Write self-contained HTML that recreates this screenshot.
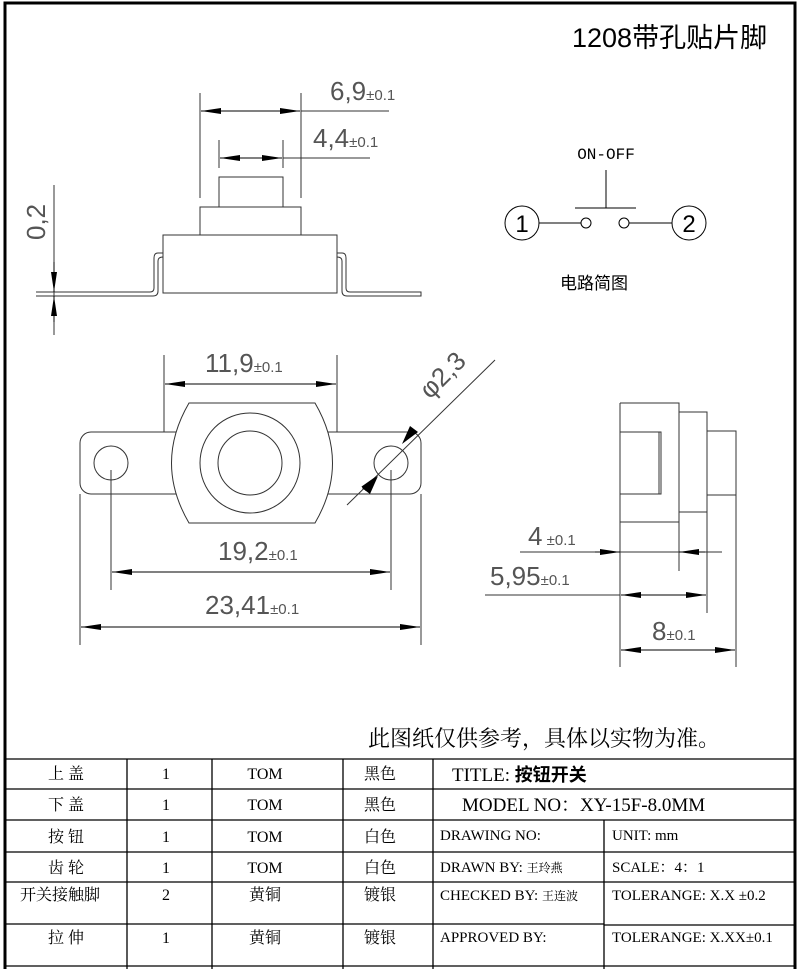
<!DOCTYPE html>
<html><head><meta charset="utf-8"><style>
body{margin:0;background:#fff}
svg{display:block}
.t{font-family:"Liberation Sans","DejaVu Sans",sans-serif;fill:#555;font-weight:300}
.c{font-family:"Liberation Serif","Noto Serif CJK SC",serif;fill:#000}
</style></head><body>
<svg width="800" height="969" viewBox="0 0 800 969" xmlns="http://www.w3.org/2000/svg">
<defs>
<marker id="a" viewBox="0 0 20 8" refX="20" refY="4" markerWidth="20" markerHeight="8" markerUnits="userSpaceOnUse" orient="auto"><path d="M0,1 L20,4 L0,7 Z" fill="#000"/></marker>
</defs>
<!-- frame -->
<rect x="5" y="3" width="790" height="975" fill="none" stroke="#000" stroke-width="3"/>
<text x="572" y="47" font-family="'Liberation Sans','Noto Sans CJK SC',sans-serif" font-size="27" fill="#000">1208带孔贴片脚</text>

<g stroke="#333" stroke-width="1" fill="none">
<!-- top view -->
<rect x="163" y="235" width="174" height="58"/>
<rect x="200" y="207" width="101" height="28"/>
<rect x="219" y="177" width="64" height="30"/>
<path d="M36,292 H150 Q154,292 154,288 V258 Q154,253 158,253 H163"/>
<path d="M36,296 H153 Q158,296 158,291 V261 Q158,257 163,257"/>
<path d="M337,253 H342 Q346,253 346,258 V288 Q346,292 350,292 H421 V296 H347 Q342,296 342,291 V261 Q342,257 337,257"/>
<path d="M200,93 V198 M301,93 V198 M219,140 V168 M283,140 V168"/>
<line x1="301" y1="111" x2="389" y2="111"/>
<line x1="283" y1="158" x2="370" y2="158"/>
<line x1="54" y1="185" x2="54" y2="335"/>
</g>
<g stroke="#000" stroke-width="1">
<line x1="250" y1="111" x2="201" y2="111" marker-end="url(#a)"/>
<line x1="250" y1="111" x2="300" y2="111" marker-end="url(#a)"/>
<line x1="251" y1="158" x2="220" y2="158" marker-end="url(#a)"/>
<line x1="251" y1="158" x2="282" y2="158" marker-end="url(#a)"/>
<line x1="54" y1="262" x2="54" y2="292" marker-end="url(#a)"/>
<line x1="54" y1="322" x2="54" y2="296" marker-end="url(#a)"/>
</g>
<text class="t" x="330" y="100" font-size="26">6,9<tspan font-size="15">±0.1</tspan></text>
<text class="t" x="313" y="147" font-size="26">4,4<tspan font-size="15">±0.1</tspan></text>
<text class="t" font-size="26" transform="translate(45,240) rotate(-90)">0,2</text>

<!-- front view -->
<g stroke="#333" stroke-width="1" fill="none">
<rect x="80" y="432" width="341" height="62" rx="11"/>
<path d="M189,403 H315 Q350,463 315,523 H189 Q154,463 189,403 Z" fill="#fff"/>
<circle cx="250" cy="463" r="50"/>
<circle cx="250" cy="463" r="32"/>
<circle cx="111" cy="463" r="17"/>
<circle cx="391" cy="463" r="17"/>
<path d="M164,355 V432 M337,355 V432"/>
<path d="M111,470 V590 M391,470 V590 M80,494 V645 M421,494 V645"/>
<line x1="347" y1="505" x2="495" y2="360"/>
</g>
<g stroke="#000" stroke-width="1">
<line x1="250" y1="384" x2="165" y2="384" marker-end="url(#a)"/>
<line x1="250" y1="384" x2="336" y2="384" marker-end="url(#a)"/>
<line x1="250" y1="572" x2="112" y2="572" marker-end="url(#a)"/>
<line x1="250" y1="572" x2="390" y2="572" marker-end="url(#a)"/>
<line x1="250" y1="627" x2="81" y2="627" marker-end="url(#a)"/>
<line x1="250" y1="627" x2="420" y2="627" marker-end="url(#a)"/>
<line x1="357" y1="495" x2="378" y2="475" marker-end="url(#a)" stroke="none"/>
</g>
<path d="M362,488 L378,476 L370,494 Z M418,432 L402,444 L410,426 Z" fill="#000"/>
<text class="t" x="205" y="372" font-size="26">11,9<tspan font-size="15">±0.1</tspan></text>
<text class="t" x="218" y="560" font-size="26">19,2<tspan font-size="15">±0.1</tspan></text>
<text class="t" x="205" y="614" font-size="26">23,41<tspan font-size="15">±0.1</tspan></text>
<text class="t" font-size="26" transform="translate(430,400) rotate(-45)">φ2,3</text>

<!-- side view -->
<g stroke="#333" stroke-width="1" fill="none">
<path d="M620,403 H679 V522 H620 M620,403 V667"/>
<path d="M620,432 H661 V494 H620 M659,432 V494"/>
<path d="M679,412 H707 V512 H679 M679,522 V571"/>
<path d="M707,431 H736 V495 H707 M707,512 V613 M736,495 V667"/>
<line x1="520" y1="552" x2="722" y2="552"/>
<line x1="485" y1="595" x2="620" y2="595"/>
</g>
<g stroke="#000" stroke-width="1">
<line x1="595" y1="552" x2="620" y2="552" marker-end="url(#a)"/>
<line x1="705" y1="552" x2="679" y2="552" marker-end="url(#a)"/>
<line x1="663" y1="595" x2="621" y2="595" marker-end="url(#a)"/>
<line x1="663" y1="595" x2="706" y2="595" marker-end="url(#a)"/>
<line x1="678" y1="650" x2="621" y2="650" marker-end="url(#a)"/>
<line x1="678" y1="650" x2="735" y2="650" marker-end="url(#a)"/>
</g>
<text class="t" x="528" y="545" font-size="26">4<tspan font-size="15"> ±0.1</tspan></text>
<text class="t" x="490" y="585" font-size="26">5,95<tspan font-size="15">±0.1</tspan></text>
<text class="t" x="652" y="640" font-size="26">8<tspan font-size="15">±0.1</tspan></text>

<!-- circuit -->
<text x="606" y="159" text-anchor="middle" font-family="'Liberation Mono',monospace" font-size="16" fill="#000">ON-OFF</text>
<g stroke="#000" stroke-width="1" fill="none">
<path d="M606,170 V208 M575,208 H636"/>
<circle cx="522" cy="223" r="17"/><circle cx="689" cy="223" r="17"/>
<circle cx="586" cy="223" r="5"/><circle cx="624" cy="223" r="5"/>
<path d="M539,223 H581 M629,223 H672"/>
</g>
<text x="522" y="232" text-anchor="middle" font-family="'Liberation Sans',sans-serif" font-size="24">1</text>
<text x="689" y="232" text-anchor="middle" font-family="'Liberation Sans',sans-serif" font-size="24">2</text>
<text x="560" y="289" font-family="'Liberation Sans','Noto Sans CJK SC',sans-serif" font-size="17">电路简图</text>

<text x="368" y="746" font-family="'Liberation Serif','Noto Serif CJK SC',serif" font-size="22">此图纸仅供参考，具体以实物为准。</text>

<!-- table -->
<g stroke="#000" stroke-width="1.3" fill="none">
<path d="M5,759 H795 M5,789 H795 M5,820 H795 M5,852 H795 M5,882 H795 M5,924 H604 M604,925 H795 M5,966 H795"/>
<path d="M127,759 V969 M212,759 V969 M343,759 V969 M433,759 V969 M604,820 V969"/>
</g>
<g class="c" font-size="16" text-anchor="middle">
<text x="66" y="779">上 盖</text><text x="166" y="779">1</text><text x="265" y="779">TOM</text><text x="380" y="779">黑色</text>
<text x="66" y="810">下 盖</text><text x="166" y="810">1</text><text x="265" y="810">TOM</text><text x="380" y="810">黑色</text>
<text x="66" y="842">按 钮</text><text x="166" y="842">1</text><text x="265" y="842">TOM</text><text x="380" y="842">白色</text>
<text x="66" y="873">齿 轮</text><text x="166" y="873">1</text><text x="265" y="873">TOM</text><text x="380" y="873">白色</text>
<text x="60" y="900">开关接触脚</text><text x="166" y="900">2</text><text x="265" y="900">黄铜</text><text x="380" y="900">镀银</text>
<text x="66" y="943">拉 伸</text><text x="166" y="943">1</text><text x="265" y="943">黄铜</text><text x="380" y="943">镀银</text>
</g>
<g class="c" font-size="15">
<text x="452" y="781" font-size="19">TITLE: <tspan font-family="'Noto Sans CJK SC',sans-serif" font-weight="bold" font-size="18">按钮开关</tspan></text>
<text x="462" y="811" font-size="19">MODEL NO：XY-15F-8.0MM</text>
<text x="440" y="840">DRAWING NO:</text><text x="612" y="840">UNIT:  mm</text>
<text x="440" y="872">DRAWN BY: <tspan font-size="12">王玲燕</tspan></text><text x="612" y="872">SCALE：4：1</text>
<text x="440" y="900">CHECKED BY: <tspan font-size="12">王连波</tspan></text><text x="612" y="900">TOLERANGE: X.X ±0.2</text>
<text x="440" y="942">APPROVED BY:</text><text x="612" y="942">TOLERANGE: X.XX±0.1</text>
</g>
</svg>
</body></html>
